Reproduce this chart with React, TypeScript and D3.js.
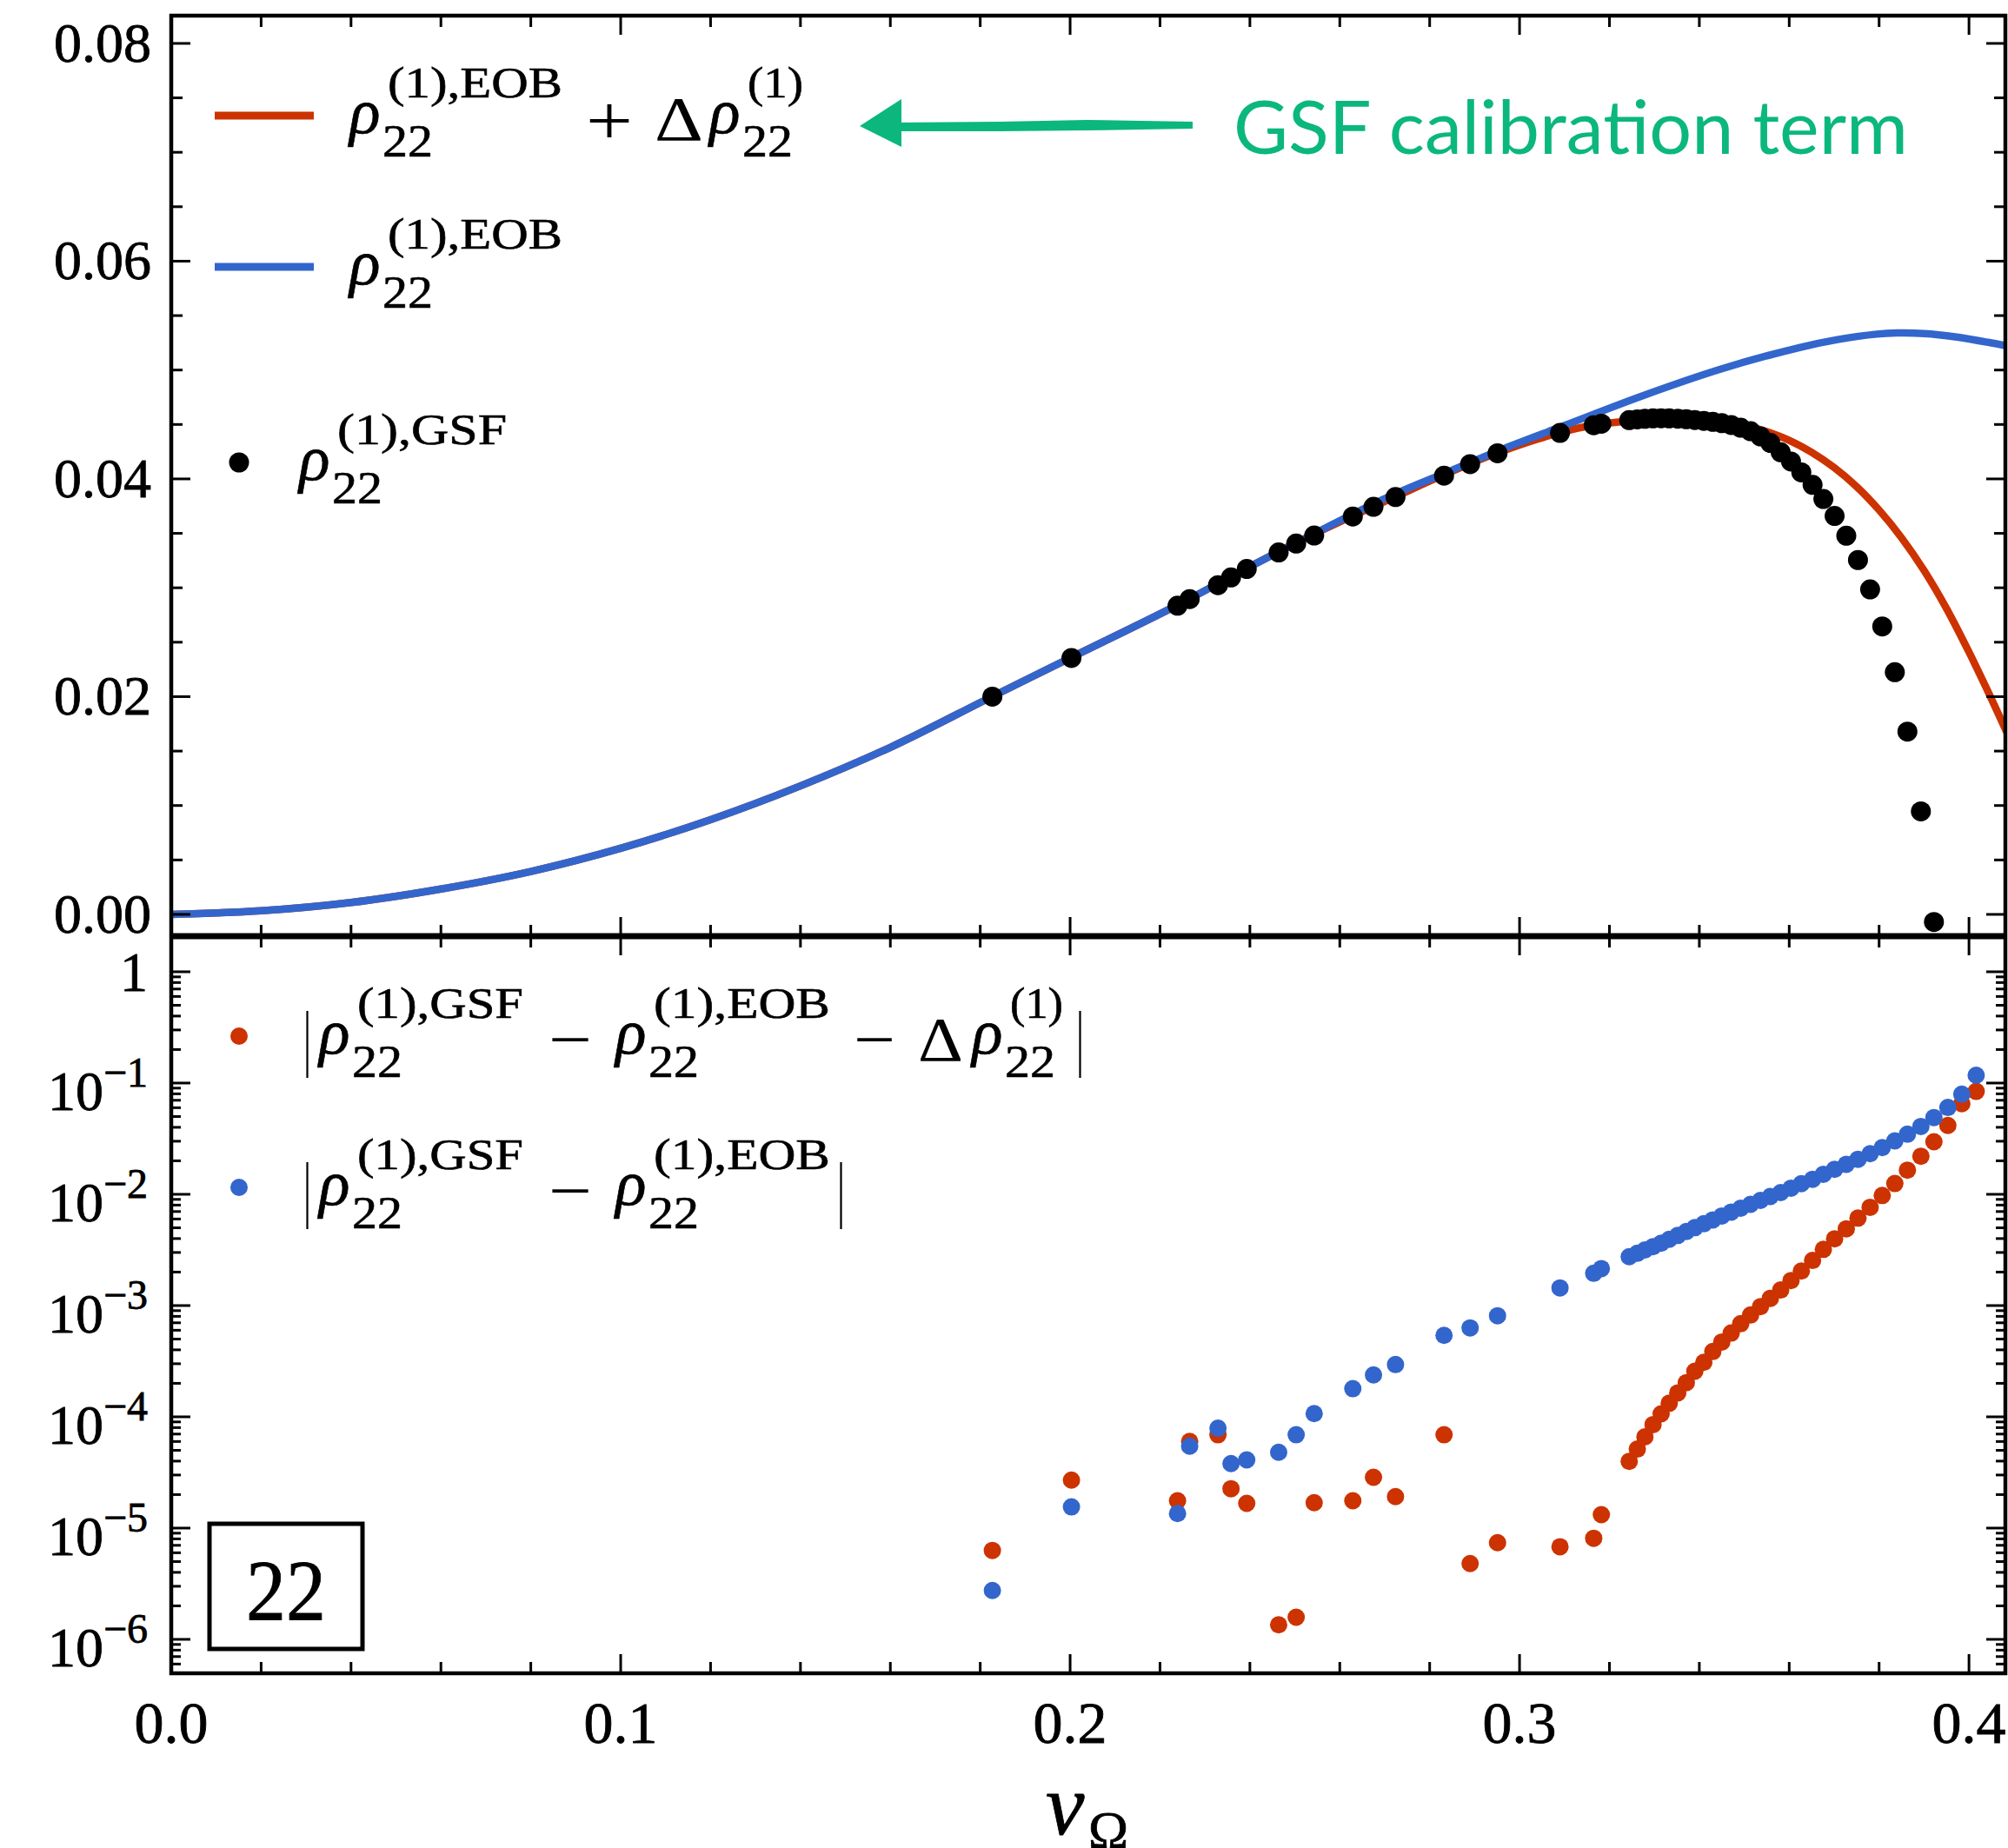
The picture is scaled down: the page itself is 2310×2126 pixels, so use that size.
import React from 'react';
import * as d3 from 'd3';

const W = 2310;
const H = 2126;
const LEFT = 197;
const RIGHT = 2307;
const TOP = 18;
const MID = 1077;
const BOTTOM = 1925;

const RED = '#cc3300';
const BLUE = '#3366cc';
const GREEN = '#0bb77d';
const SERIF = '"Liberation Serif", "Times New Roman", serif';

// EOB curves, low-v part where both curves overlap
const eobV = [0, 0.02, 0.04, 0.06, 0.08, 0.1, 0.12, 0.14, 0.16, 0.1826, 0.2, 0.2236, 0.239, 0.25];
const eobRho = [0, 0.00033, 0.00109, 0.00233, 0.00394, 0.00607, 0.0087, 0.0118, 0.01534, 0.02, 0.02355, 0.02835, 0.03173, 0.03406];

// rho22 EOB (blue) after the split
const blueTailV = [0.2626, 0.2722, 0.2838, 0.296, 0.3098, 0.3273, 0.3447, 0.3621, 0.3708, 0.3795, 0.384, 0.39, 0.3969, 0.4087];
const blueTailRho = [0.0367, 0.0386, 0.0406, 0.0427, 0.04488, 0.04763, 0.05008, 0.05205, 0.0528, 0.0533, 0.0534, 0.05335, 0.05305, 0.0522];

// rho22 EOB + Delta rho22 (red) after the split
const redTailV = [0.2626, 0.2722, 0.2828, 0.2949, 0.3086, 0.3162, 0.3249, 0.33, 0.335, 0.34, 0.345, 0.35, 0.355, 0.36, 0.365, 0.37, 0.375, 0.38, 0.385, 0.39, 0.395, 0.4, 0.405, 0.4087];
const redTailRho = [0.03655, 0.03833, 0.0403, 0.04236, 0.04422, 0.04493, 0.04535, 0.04553, 0.0456, 0.04556, 0.04536, 0.04494, 0.04434, 0.04354, 0.04244, 0.04104, 0.03929, 0.03714, 0.03459, 0.03159, 0.02809, 0.02409, 0.01979, 0.01646];

// GSF sample velocities
const gsfV = [
  0.1827, 0.2003, 0.2239, 0.2266, 0.2329, 0.2358, 0.2393, 0.2464, 0.2503, 0.2543,
  0.2629, 0.2675, 0.2724, 0.2832, 0.289, 0.2951, 0.309, 0.3165, 0.3182,
  0.3244, 0.3262, 0.3279, 0.3297, 0.3315, 0.3333, 0.3352, 0.3371, 0.339, 0.341,
  0.343, 0.345, 0.3471, 0.3492, 0.3514, 0.3536, 0.3558, 0.3581, 0.3604, 0.3627,
  0.3652, 0.3676, 0.3701, 0.3727, 0.3753, 0.378, 0.3807, 0.3835, 0.3863, 0.3893,
  0.3922, 0.3953, 0.3984, 0.4016,
];

// rho22 GSF (black dots, top panel)
const gsfRho = [
  0.02, 0.02355, 0.02835, 0.02896, 0.03024, 0.03095, 0.03173, 0.03324, 0.03406, 0.0348,
  0.03655, 0.03744, 0.03833, 0.0403, 0.04136, 0.04236, 0.04422, 0.04493, 0.04507,
  0.0454, 0.04547, 0.04552, 0.04556, 0.04557, 0.04556, 0.04553, 0.04548, 0.04541, 0.04533,
  0.04524, 0.04512, 0.04495, 0.0447, 0.04438, 0.0439, 0.0433, 0.04245, 0.0416, 0.0406,
  0.03945, 0.03815, 0.0366, 0.03478, 0.03255, 0.02985, 0.02645, 0.02225, 0.01679, 0.00946,
  -0.0007,
];

// |GSF - EOB - Delta| (red dots, bottom panel)
const diffCal = [
  6.3e-6, 2.7e-5, 1.76e-5, 6.0e-5, 6.9e-5, 2.26e-5, 1.67e-5, 1.35e-6, 1.58e-6, 1.69e-5,
  1.76e-5, 2.86e-5, 1.92e-5, 6.9e-5, 4.8e-6, 7.4e-6, 6.8e-6, 8.1e-6, 1.32e-5,
  3.98e-5, 5.13e-5, 6.61e-5, 8.51e-5, 1.064e-4, 1.324e-4, 1.641e-4, 2.028e-4, 2.57e-4, 3.09e-4,
  3.864e-4, 4.7e-4, 5.66e-4, 6.87e-4, 8.22e-4, 9.77e-4, 1.161e-3, 1.38e-3, 1.679e-3, 2.042e-3,
  2.541e-3, 3.199e-3, 3.981e-3, 4.898e-3, 6.109e-3, 7.638e-3, 9.75e-3, 1.25e-2, 1.648e-2, 2.198e-2,
  2.965e-2, 4.159e-2, 6.516e-2, 8.414e-2,
];

// |GSF - EOB| (blue dots, bottom panel)
const diffEob = [
  2.75e-6, 1.55e-5, 1.35e-5, 5.45e-5, 7.9e-5, 3.8e-5, 4.1e-5, 4.8e-5, 6.9e-5, 1.07e-4,
  1.79e-4, 2.38e-4, 2.95e-4, 5.4e-4, 6.3e-4, 8.1e-4, 1.44e-3, 1.95e-3, 2.15e-3,
  2.748e-3, 2.951e-3, 3.162e-3, 3.388e-3, 3.631e-3, 3.936e-3, 4.266e-3, 4.624e-3, 5.012e-3, 5.433e-3,
  5.888e-3, 6.383e-3, 6.918e-3, 7.499e-3, 8.128e-3, 8.81e-3, 9.55e-3, 1.035e-2, 1.135e-2, 1.245e-2,
  1.365e-2, 1.514e-2, 1.679e-2, 1.862e-2, 2.065e-2, 2.317e-2, 2.63e-2, 3.02e-2, 3.467e-2, 4.074e-2,
  4.898e-2, 6.026e-2, 7.943e-2, 1.175e-1,
];

const xTickLabels = ['0.0', '0.1', '0.2', '0.3', '0.4'];
const yTopTickLabels = ['0.00', '0.02', '0.04', '0.06', '0.08'];

const x = d3.scaleLinear().domain([0, 0.4081]).range([LEFT, RIGHT]);
const yTop = d3.scaleLinear().domain([-0.002, 0.08255]).range([MID, TOP]);
const yBot = d3.scaleLog().domain([Math.pow(10, -6.305), Math.pow(10, 0.32)]).range([BOTTOM, MID]);

const line = d3.line<[number, number]>()
  .x(d => x(d[0]))
  .y(d => yTop(d[1]))
  .curve(d3.curveCatmullRom.alpha(0.5));

const zip = (a: number[], b: number[]): [number, number][] => b.map((v, i) => [a[i], v]);

const bluePts = zip(eobV, eobRho).concat(zip(blueTailV, blueTailRho));
const redPts = zip(eobV, eobRho).concat(zip(redTailV, redTailRho));
const gsfPts = zip(gsfV, gsfRho);
const calPts = zip(gsfV, diffCal);
const eobPts = zip(gsfV, diffEob);

const xMajor = d3.range(0, 5).map(i => i * 0.1);
const xMinor = d3.range(0, 21).filter(i => i % 5 !== 0).map(i => i * 0.02);
const yTopMajor = d3.range(0, 5).map(i => i * 0.02);
const yTopMinor = d3.range(0, 17).filter(i => i % 4 !== 0).map(i => i * 0.005);
const logMajor = d3.range(-6, 1).map(k => Math.pow(10, k));
const logMinor: number[] = [];
d3.range(-7, 0).forEach(k => {
  d3.range(2, 10).forEach(m => {
    const v = m * Math.pow(10, k);
    const lo = yBot.domain()[0];
    if (v > lo && v < 1) logMinor.push(v);
  });
});

// one rho_22 symbol with stacked sub and superscript
const Rho = ({ x0, y0, sup, supW }: { x0: number; y0: number; sup: string; supW: number }) => (
  <g fontFamily={SERIF} fill="#000" stroke="#000" strokeWidth={0.6}>
    <text x={x0} y={y0 + 20} fontSize={74} fontStyle="italic">ρ</text>
    <text x={x0 + 38} y={y0 + 47} fontSize={52} textLength={58} lengthAdjust="spacingAndGlyphs">22</text>
    <text x={x0 + 44} y={y0 - 21} fontSize={50} textLength={supW} lengthAdjust="spacingAndGlyphs">{sup}</text>
  </g>
);

const Sym = ({ x0, y0, t, w, size = 72 }: { x0: number; y0: number; t: string; w: number; size?: number }) => (
  <text x={x0} y={y0} fontFamily={SERIF} fontSize={size} textLength={w} lengthAdjust="spacingAndGlyphs">{t}</text>
);

const App = () => {
  const tickW = 3;
  return (
    <svg width={W} height={H} style={{ position: 'absolute', left: 0, top: 0, background: '#fff' }}>
      <defs>
        <clipPath id="clipTop"><rect x={LEFT} y={TOP} width={RIGHT - LEFT} height={MID - TOP} /></clipPath>
        <clipPath id="clipBot"><rect x={LEFT} y={MID} width={RIGHT - LEFT} height={BOTTOM - MID} /></clipPath>
      </defs>
      <rect x={0} y={0} width={W} height={H} fill="#fff" />

      {/* top panel data */}
      <g clipPath="url(#clipTop)">
        <path d={line(redPts) || ''} fill="none" stroke={RED} strokeWidth={8.5} />
        <path d={line(bluePts) || ''} fill="none" stroke={BLUE} strokeWidth={8.5} />
        {gsfPts.map((d, i) => (
          <circle key={i} cx={x(d[0])} cy={yTop(d[1])} r={11.5} fill="#000" />
        ))}
      </g>

      {/* bottom panel data */}
      <g clipPath="url(#clipBot)">
        {calPts.map((d, i) => (
          <circle key={'c' + i} cx={x(d[0])} cy={yBot(d[1])} r={10} fill={RED} />
        ))}
        {eobPts.map((d, i) => (
          <circle key={'e' + i} cx={x(d[0])} cy={yBot(d[1])} r={10} fill={BLUE} />
        ))}
      </g>

      {/* ticks */}
      <g stroke="#000" strokeWidth={tickW}>
        {xMajor.map((v, i) => (
          <g key={'xM' + i}>
            <line x1={x(v)} x2={x(v)} y1={TOP} y2={TOP + 22} />
            <line x1={x(v)} x2={x(v)} y1={MID} y2={MID - 22} />
            <line x1={x(v)} x2={x(v)} y1={MID} y2={MID + 22} />
            <line x1={x(v)} x2={x(v)} y1={BOTTOM} y2={BOTTOM - 22} />
          </g>
        ))}
        {xMinor.map((v, i) => (
          <g key={'xm' + i}>
            <line x1={x(v)} x2={x(v)} y1={TOP} y2={TOP + 13} />
            <line x1={x(v)} x2={x(v)} y1={MID} y2={MID - 13} />
            <line x1={x(v)} x2={x(v)} y1={MID} y2={MID + 13} />
            <line x1={x(v)} x2={x(v)} y1={BOTTOM} y2={BOTTOM - 13} />
          </g>
        ))}
        {yTopMajor.map((v, i) => (
          <g key={'yM' + i}>
            <line x1={LEFT} x2={LEFT + 22} y1={yTop(v)} y2={yTop(v)} />
            <line x1={RIGHT} x2={RIGHT - 22} y1={yTop(v)} y2={yTop(v)} />
          </g>
        ))}
        {yTopMinor.map((v, i) => (
          <g key={'ym' + i}>
            <line x1={LEFT} x2={LEFT + 13} y1={yTop(v)} y2={yTop(v)} />
            <line x1={RIGHT} x2={RIGHT - 13} y1={yTop(v)} y2={yTop(v)} />
          </g>
        ))}
        {logMajor.map((v, i) => (
          <g key={'lM' + i}>
            <line x1={LEFT} x2={LEFT + 22} y1={yBot(v)} y2={yBot(v)} />
            <line x1={RIGHT} x2={RIGHT - 22} y1={yBot(v)} y2={yBot(v)} />
          </g>
        ))}
        {logMinor.map((v, i) => (
          <g key={'lm' + i}>
            <line x1={LEFT} x2={LEFT + 11} y1={yBot(v)} y2={yBot(v)} />
            <line x1={RIGHT} x2={RIGHT - 11} y1={yBot(v)} y2={yBot(v)} />
          </g>
        ))}
      </g>

      {/* spines */}
      <rect x={LEFT} y={TOP} width={RIGHT - LEFT} height={BOTTOM - TOP} fill="none" stroke="#000" strokeWidth={4.5} />
      <line x1={LEFT} x2={RIGHT} y1={MID} y2={MID} stroke="#000" strokeWidth={7} />

      {/* tick labels */}
      <g fontFamily={SERIF} fill="#000" stroke="#000" strokeWidth={0.8}>
        {yTopMajor.map((v, i) => (
          <text key={'ytl' + i} x={174} y={yTop(v) + 21} fontSize={64} textAnchor="end">{yTopTickLabels[i]}</text>
        ))}
        {logMajor.map((v, i) => {
          const k = Math.round(Math.log10(v));
          return k === 0 ? (
            <text key={'ltl' + i} x={170} y={yBot(v) + 22} fontSize={64} textAnchor="end">1</text>
          ) : (
            <text key={'ltl' + i} x={170} y={yBot(v) + 31} fontSize={64} textAnchor="end">
              10<tspan dy={-27} fontSize={48}>{`−${-k}`}</tspan>
            </text>
          );
        })}
        {xMajor.map((v, i) => (
          <text key={'xtl' + i} x={x(v)} y={2005} fontSize={68} textAnchor="middle">{xTickLabels[i]}</text>
        ))}
        <text x={1203} y={2110} fontSize={100} fontStyle="italic">v</text>
        <text x={1252} y={2126} fontSize={62}>Ω</text>
      </g>

      {/* top legend */}
      <line x1={247} x2={361} y1={133} y2={133} stroke={RED} strokeWidth={9} />
      <Rho x0={402} y0={133} sup="(1),EOB" supW={201} />
      <Sym x0={674} y0={166} t="+" w={54} size={80} />
      <Sym x0={753} y0={161} t="Δ" w={56} />
      <Rho x0={816} y0={133} sup="(1)" supW={64} />

      <line x1={247} x2={361} y1={307} y2={307} stroke={BLUE} strokeWidth={9} />
      <Rho x0={402} y0={307} sup="(1),EOB" supW={201} />

      <circle cx={275} cy={532} r={11.5} fill="#000" />
      <Rho x0={344} y0={532} sup="(1),GSF" supW={195} />

      {/* green annotation */}
      <g fill={GREEN}>
        <polygon points="989,145 1037,114 1037,169" />
        <polygon points="1030,141 1150,140 1250,138 1372,140 1372,148 1250,150 1150,151 1030,151" />
        <text x={1419} y={177} fontFamily="Lato, 'Open Sans', sans-serif" fontSize={86} textLength={776} lengthAdjust="spacingAndGlyphs">GSF calibration term</text>
      </g>

      {/* bottom legend */}
      <circle cx={275} cy={1192} r={10} fill={RED} />
      <Sym x0={349} y0={1222} t="|" w={9} size={84} />
      <Rho x0={367} y0={1192} sup="(1),GSF" supW={191} />
      <Sym x0={631} y0={1220} t="−" w={50} />
      <Rho x0={708} y0={1192} sup="(1),EOB" supW={203} />
      <Sym x0={982} y0={1220} t="−" w={48} />
      <Sym x0={1056} y0={1220} t="Δ" w={52} />
      <Rho x0={1118} y0={1192} sup="(1)" supW={61} />
      <Sym x0={1238} y0={1222} t="|" w={9} size={84} />

      <circle cx={275} cy={1366} r={10} fill={BLUE} />
      <Sym x0={349} y0={1396} t="|" w={9} size={84} />
      <Rho x0={367} y0={1366} sup="(1),GSF" supW={191} />
      <Sym x0={631} y0={1394} t="−" w={50} />
      <Rho x0={708} y0={1366} sup="(1),EOB" supW={203} />
      <Sym x0={963} y0={1396} t="|" w={9} size={84} />

      {/* mode box */}
      <rect x={241} y={1753} width={176} height={144} fill="none" stroke="#000" strokeWidth={5} />
      <text x={329} y={1863} fontFamily={SERIF} fontSize={100} textAnchor="middle" textLength={92} lengthAdjust="spacingAndGlyphs" stroke="#000" strokeWidth={0.8}>22</text>
    </svg>
  );
};

export default App;
